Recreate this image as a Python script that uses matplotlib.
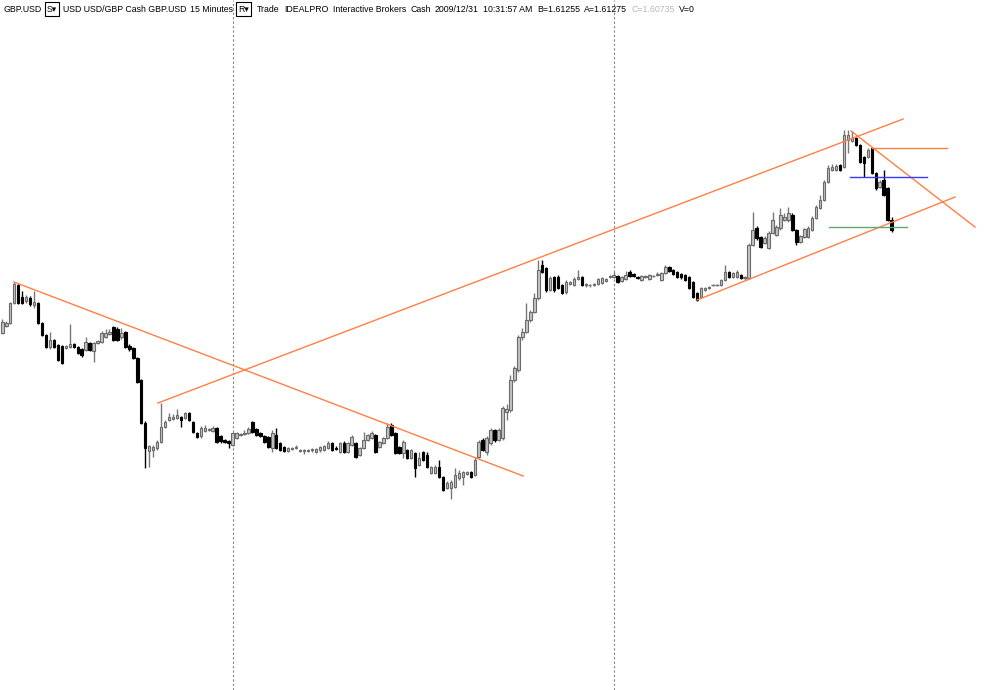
import matplotlib
matplotlib.use("Agg")
import matplotlib.pyplot as plt

# GBP.USD 15 minute bars, prices in pips above 1.6000
# each list is one field of the bar, in time order
opens = [167, 174, 177, 197, 215, 203, 199, 202, 195, 197, 177, 165, 153, 160, 155, 154, 152, 153, 156, 153,
         151, 150, 157, 149, 157, 158, 163, 166, 173, 171, 163, 168, 154, 152, 142, 120, 77, 49, 50, 52,
         58, 73, 80, 81, 82, 83, 82, 87, 78, 67, 64, 69, 70, 69, 72, 64, 60, 59, 55, 62,
         65, 66, 67, 78, 71, 67, 64, 63, 52, 65, 57, 53, 49, 51, 52, 49, 49, 49, 50, 48,
         50, 50, 52, 57, 52, 48, 57, 48, 55, 57, 45, 52, 60, 62, 65, 53, 57, 62, 75, 67,
         53, 47, 50, 42, 47, 35, 48, 45, 27, 27, 33, 23, 12, 12, 13, 22, 23, 26, 28, 25,
         43, 60, 48, 57, 70, 60, 62, 88, 90, 120, 130, 163, 168, 180, 188, 202, 235, 232, 210, 223,
         223, 215, 208, 216, 215, 221, 223, 215, 215, 215, 216, 217, 219, 223, 223, 224, 219, 221, 228, 226,
         223, 220, 223, 221, 224, 225, 220, 227, 233, 230, 228, 226, 225, 223, 218, 207, 203, 210, 212, 215,
         215, 215, 220, 228, 223, 223, 225, 222, 222, 255, 272, 263, 257, 252, 267, 265, 272, 280, 280, 285,
         270, 258, 263, 263, 270, 282, 292, 300, 318, 330, 330, 335, 333, 360, 359, 362, 355, 343, 343, 352,
         327, 313, 320, 312, 280]
highs = [181, 179, 198, 218, 216, 209, 205, 204, 209, 198, 178, 166, 168, 161, 156, 155, 155, 176, 157, 154,
         152, 163, 158, 158, 160, 169, 171, 171, 174, 173, 172, 169, 156, 153, 143, 121, 79, 55, 55, 60,
         97, 80, 87, 86, 91, 84, 88, 88, 79, 68, 74, 75, 72, 74, 73, 65, 61, 60, 68, 68,
         67, 70, 73, 79, 72, 68, 65, 64, 70, 72, 58, 54, 53, 53, 55, 51, 51, 51, 52, 52,
         54, 55, 59, 58, 54, 58, 59, 58, 65, 58, 53, 68, 66, 69, 66, 59, 63, 77, 77, 68,
         54, 60, 51, 51, 48, 48, 49, 48, 34, 35, 40, 24, 19, 20, 32, 30, 29, 29, 29, 43,
         60, 62, 64, 72, 71, 72, 94, 96, 125, 134, 165, 172, 197, 190, 207, 240, 240, 233, 224, 224,
         225, 216, 220, 219, 223, 230, 224, 217, 216, 217, 222, 223, 222, 225, 228, 225, 224, 229, 230, 227,
         224, 225, 225, 226, 225, 228, 228, 235, 234, 231, 229, 227, 226, 224, 219, 208, 213, 213, 214, 216,
         216, 221, 235, 229, 228, 230, 226, 224, 257, 288, 274, 264, 264, 269, 288, 275, 292, 287, 293, 287,
         271, 265, 272, 274, 284, 295, 305, 320, 335, 336, 336, 336, 370, 370, 369, 363, 356, 344, 352, 353,
         328, 320, 330, 313, 283]
lows = [166, 173, 176, 196, 196, 196, 197, 194, 192, 176, 164, 152, 151, 152, 139, 136, 151, 152, 152, 146,
        143, 149, 149, 138, 156, 157, 162, 165, 159, 159, 161, 152, 149, 141, 117, 76, 32, 33, 43, 50,
        57, 72, 79, 80, 81, 73, 81, 79, 67, 62, 62, 68, 69, 68, 57, 57, 57, 52, 54, 61,
        64, 65, 66, 67, 64, 63, 57, 52, 48, 51, 49, 48, 48, 50, 51, 48, 46, 48, 48, 47,
        48, 49, 51, 49, 50, 47, 47, 47, 54, 42, 44, 51, 59, 61, 47, 52, 56, 61, 64, 46,
        46, 42, 41, 41, 23, 34, 39, 32, 26, 26, 22, 9, 11, 1, 12, 20, 15, 25, 22, 24,
        42, 49, 45, 55, 58, 59, 60, 80, 88, 118, 128, 160, 167, 178, 187, 200, 227, 208, 209, 208,
        211, 206, 206, 215, 214, 220, 214, 213, 213, 214, 215, 216, 218, 222, 222, 217, 218, 220, 223, 223,
        221, 219, 222, 220, 223, 224, 219, 226, 228, 225, 222, 221, 219, 211, 202, 199, 202, 209, 211, 214,
        214, 214, 219, 222, 222, 222, 221, 220, 221, 254, 260, 252, 256, 251, 266, 264, 270, 279, 278, 269,
        255, 257, 262, 262, 269, 281, 291, 299, 317, 329, 329, 329, 332, 347, 358, 354, 337, 323, 342, 326,
        310, 312, 304, 279, 268]
closes = [178, 177, 197, 216, 197, 197, 203, 196, 198, 177, 165, 153, 160, 153, 140, 137, 154, 156, 153, 147,
          145, 158, 150, 157, 159, 167, 167, 168, 160, 160, 167, 153, 151, 142, 118, 77, 52, 54, 53, 58,
          73, 78, 83, 83, 85, 80, 87, 80, 68, 63, 72, 72, 71, 72, 58, 59, 58, 57, 67, 67,
          66, 67, 71, 68, 65, 64, 58, 53, 67, 52, 50, 49, 52, 52, 53, 50, 50, 50, 51, 51,
          53, 54, 57, 50, 51, 57, 48, 57, 63, 43, 52, 60, 65, 67, 48, 58, 62, 73, 65, 47,
          47, 58, 42, 50, 32, 42, 40, 33, 33, 33, 23, 10, 17, 18, 25, 27, 28, 28, 23, 40,
          58, 50, 62, 70, 60, 70, 92, 91, 120, 132, 163, 168, 180, 188, 202, 230, 228, 210, 222, 210,
          212, 207, 218, 218, 221, 223, 215, 216, 215, 216, 221, 222, 221, 224, 225, 218, 223, 225, 224, 224,
          222, 224, 224, 225, 224, 226, 227, 233, 229, 226, 223, 223, 220, 212, 203, 200, 212, 212, 213, 215,
          215, 220, 228, 223, 227, 228, 222, 223, 255, 270, 262, 253, 262, 267, 280, 273, 285, 283, 287, 270,
          258, 264, 271, 272, 282, 293, 300, 318, 332, 333, 334, 330, 365, 365, 362, 355, 338, 337, 350, 327,
          312, 318, 305, 280, 270]

# day separators (bar index where a new session starts)
day_breaks = [58.1, 154.1]

# drawn studies: ((bar, pips), (bar, pips)), colour
trend_lines = [
    (((2.95, 218), (131.2, 24)), "#ff7f45"),
    (((39.2, 97), (226.9, 381)), "#ff7f45"),
    (((175.0, 200), (240.0, 303)), "#ff7f45"),
    (((213.8, 369), (245.0, 273)), "#ff7f45"),
    (((219.1, 352), (237.9, 352)), "#ff7f45"),
    (((213.5, 323), (232.9, 323)), "#3a3aff"),
    (((208.2, 273), (227.9, 273)), "#5ea878"),
]

# header: two runs of words, (text, colour, boxed)
header_left = [
    ("GBP.USD", "#000000", False),
    ("S\u25be", "#000000", True),
    ("USD USD/GBP Cash GBP.USD", "#000000", False),
    ("15 Minutes", "#000000", False),
    ("R\u25be", "#000000", True),
]
header_right = [
    ("Trade", "#000000", False),
    ("IDEALPRO", "#000000", False),
    ("Interactive Brokers", "#000000", False),
    ("Cash", "#000000", False),
    ("2009/12/31", "#000000", False),
    ("10:31:57 AM", "#000000", False),
    ("B=1.61255", "#000000", False),
    ("A=1.61275", "#000000", False),
    ("C=1.60735", "#b8b8b8", False),
    ("V=0", "#000000", False),
]

W, H = 1000, 690
FS = 6.3
PAD = 2.0   # box padding in pixels

fig = plt.figure(figsize=(W / 100, H / 100), dpi=100)
fig.patch.set_facecolor("white")
ax = fig.add_axes([0, 0, 1, 1])
ax.set_xlim(-0.58, 251.3)
ax.set_ylim(-190, 500)
ax.axis("off")

for b in day_breaks:
    ax.axvline(b, color="#808080", lw=0.8, ls=(0, (2, 2)), zorder=1)

# candles
for i in range(len(closes)):
    o, hi, lo, c = opens[i], highs[i], lows[i], closes[i]
    up = c >= o
    wick = "#777777" if up else "#000000"
    face = "#c4c4c4" if up else "#000000"
    edge = "#6a6a6a" if up else "#000000"
    ax.vlines(i, lo, hi, color=wick, lw=1.0, zorder=2)
    body = abs(c - o)
    if body < 1:
        ax.hlines(o, i - 0.4, i + 0.4, color=wick, lw=1.0, zorder=3)
    else:
        ax.bar(i, body, bottom=min(o, c), width=0.62, color=face,
               edgecolor=edge, linewidth=0.8, zorder=3)

for (p0, p1), col in trend_lines:
    ax.plot([p0[0], p1[0]], [p0[1], p1[1]], color=col, lw=1.0, zorder=4)


def header_run(parts, x0, x1):
    # spread the words evenly between x0 and x1 (pixels)
    texts = []
    for txt, col, boxed in parts:
        kw = {}
        if boxed:
            kw["bbox"] = dict(boxstyle="square,pad=%.2f" % (PAD / (FS * 100 / 72)),
                              fc="white", ec="#000000", lw=0.8)
        t = fig.text(0, 1 - 9 / H, txt, color=col, fontsize=FS, va="center", ha="left",
                     family=["Liberation Sans", "DejaVu Sans"], **kw)
        texts.append((t, boxed))
    r = fig.canvas.get_renderer()
    widths = []
    for t, boxed in texts:
        w = t.get_window_extent(r).width
        if boxed:
            w += 2 * PAD
        widths.append(w)
    gap = (x1 - x0 - sum(widths)) / (len(texts) - 1)
    x = x0
    for (t, boxed), w in zip(texts, widths):
        t.set_x((x + (PAD if boxed else 0)) / W)
        x += w + gap


header_run(header_left, 3, 251)
header_run(header_right, 257, 695)

fig.savefig("out.png", dpi=100, facecolor="white")
